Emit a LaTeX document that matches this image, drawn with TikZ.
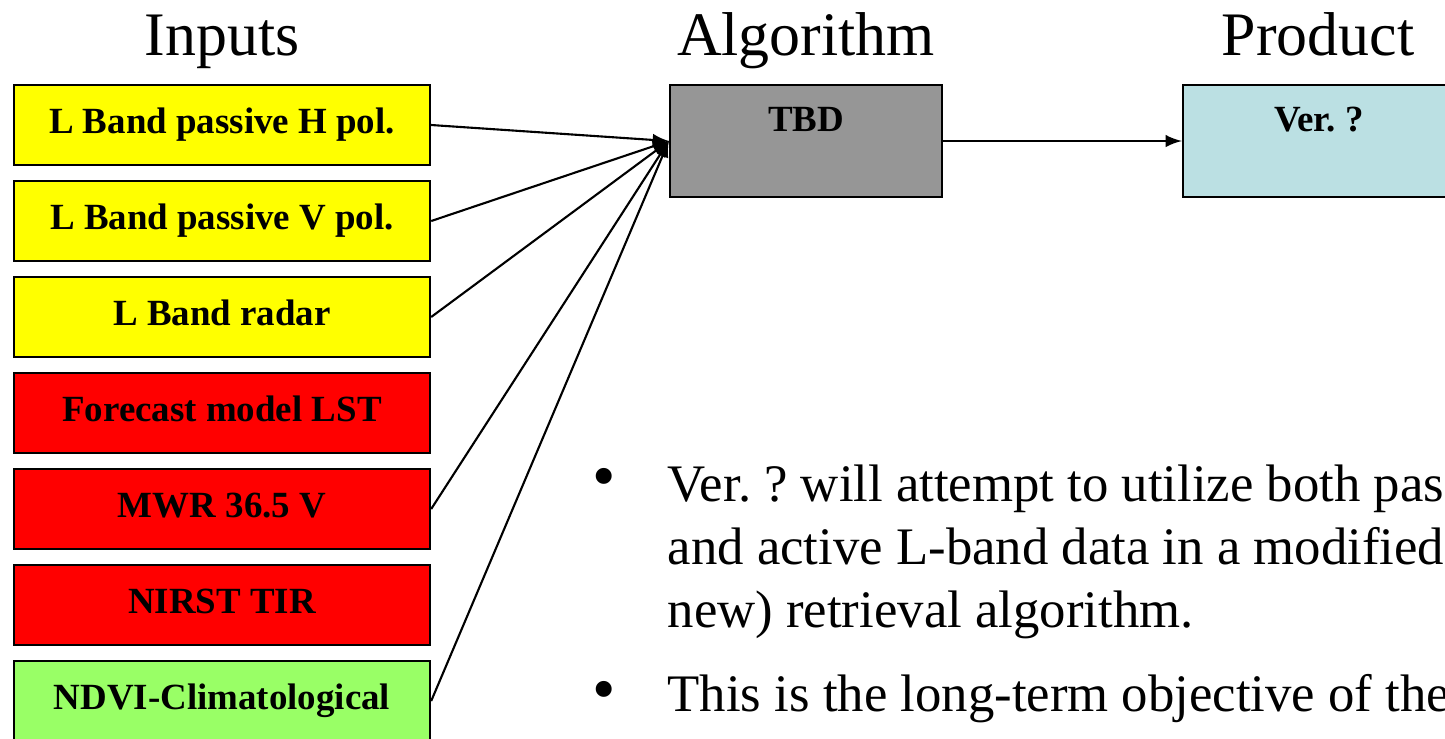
\documentclass[tikz,border=0pt]{standalone}
\usepackage{fontspec}
\setmainfont{Liberation Serif}
\frenchspacing
\definecolor{inyellow}{HTML}{FFFF00}
\definecolor{inred}{HTML}{FF0000}
\definecolor{ingreen}{HTML}{99FF66}
\definecolor{alggray}{HTML}{969696}
\definecolor{prodblue}{HTML}{BBE0E3}
\tikzset{
  coltitle/.style={font=\fontsize{17.6}{20}\selectfont, anchor=base, inner sep=0pt},
  inbox/.style={draw=black, line width=0.6pt, minimum width=4.16cm, minimum height=0.8cm,
    inner sep=0pt, text height=0.29cm, text depth=0.13cm, font=\bfseries\fontsize{10.5}{12}\selectfont},
  bigbox/.style={draw=black, line width=0.6pt, minimum width=2.72cm, minimum height=1.12cm,
    inner sep=0pt, text height=0.25cm, text depth=0.45cm, font=\bfseries\fontsize{10.5}{12}\selectfont},
  feed/.style={draw=black, line width=0.6pt, -latex},
  bullettext/.style={font=\fontsize{15}{17.9}\selectfont, align=left, anchor=north west, inner sep=0pt},
  bulletdot/.style={font=\fontsize{19}{20}\selectfont, anchor=base, inner sep=0pt},
}

\begin{document}
\begin{tikzpicture}[x=0.01cm, y=-0.01cm]
\useasboundingbox (0,0) rectangle (1445,738);
\clip (0,0) rectangle (1445,738);
% column titles
\node[coltitle] (tInputs) at (222,55) {Inputs};
\node[coltitle] (tAlg) at (806,55) {Algorithm};
\node[coltitle] (tProd) at (1318,55) {Product};
% input boxes
\node[inbox, fill=inyellow] (hpol) at (222,125) {L Band passive H pol.};
\node[inbox, fill=inyellow] (vpol) at (222,221) {L Band passive V pol.};
\node[inbox, fill=inyellow] (radar) at (222,317) {L Band radar};
\node[inbox, fill=inred] (lst) at (222,413) {Forecast model LST};
\node[inbox, fill=inred] (mwr) at (222,509) {MWR 36.5 V};
\node[inbox, fill=inred] (nirst) at (222,605) {NIRST TIR};
\node[inbox, fill=ingreen] (ndvi) at (222,701) {NDVI-Climatological};
% algorithm and product
\node[bigbox, fill=alggray] (alg) at (806,141) {TBD};
\node[bigbox, fill=prodblue] (prod) at (1319,141) {Ver. ?};
% connectors
\draw[feed] (hpol.east) -- (alg.west);
\draw[feed] (vpol.east) -- (alg.west);
\draw[feed] (radar.east) -- (alg.west);
\draw[feed] (mwr.east) -- (alg.west);
\draw[feed] (ndvi.east) -- (alg.west);
\draw[feed] (alg.east) -- (prod.west);
% notes
\node[bulletdot] (bulA) at (604,498) {•};
\node[bullettext] (txtA) at (667,464) {Ver. ? will attempt to utilize both passive\\and active L-band data in a modified (or\\new) retrieval algorithm.};
\node[bulletdot] (bulB) at (604,711) {•};
\node[bullettext] (txtB) at (667,674) {This is the long-term objective of the\\project.};
\end{tikzpicture}
\end{document}
